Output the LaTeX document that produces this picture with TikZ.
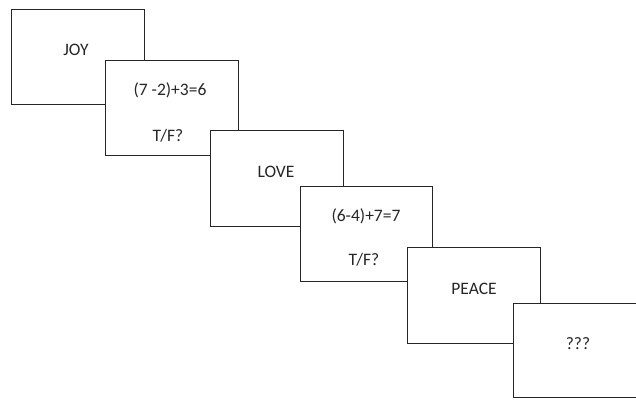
\documentclass[tikz,border=0pt]{standalone}
\usepackage{fontspec}
\setmainfont{Carlito}
\begin{document}
\begin{tikzpicture}[x=1pt,y=-1pt,
  card/.style={draw=black!85, line width=1.2pt, fill=white, rectangle, inner sep=0pt, anchor=north west},
  lbl/.style={font=\fontsize{17.5}{20}\selectfont, text=black!85, inner sep=0pt}]
\useasboundingbox (0,0) rectangle (636,399);
\clip (0,0) rectangle (636,399);
\fill[white] (0,0) rectangle (636,399);
% box 1
\node[card, minimum width=133pt, minimum height=95pt] (b1) at (11,9) {};
\node[lbl] (t1) at (76,50) {JOY};
% box 2
\node[card, minimum width=133pt, minimum height=95pt] (b2) at (105,60) {};
\node[lbl] (t2a) at (170,90) {(7 -2)+3=6};
\node[lbl] (t2b) at (168,136) {T/F?};
% box 3
\node[card, minimum width=133pt, minimum height=96pt] (b3) at (210,130) {};
\node[lbl] (t3) at (276,172) {LOVE};
% box 4
\node[card, minimum width=132pt, minimum height=95pt] (b4) at (300,186) {};
\node[lbl] (t4a) at (366,216) {(6-4)+7=7};
\node[lbl] (t4b) at (364,260) {T/F?};
% box 5
\node[card, minimum width=133pt, minimum height=96pt] (b5) at (407,247) {};
\node[lbl] (t5) at (474,289) {PEACE};
% box 6
\node[card, minimum width=133pt, minimum height=94pt] (b6) at (513,303) {};
\node[lbl] (t6) at (578,344) {???};
\end{tikzpicture}
\end{document}
